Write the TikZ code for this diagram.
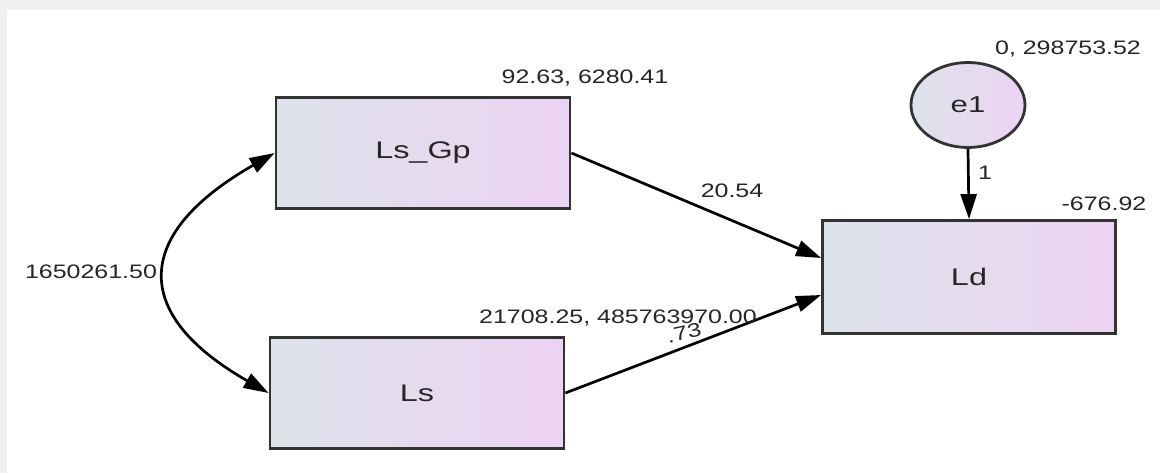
\documentclass[tikz,border=0pt]{standalone}
\usepackage{fontspec}
\setmainfont{Liberation Sans}
\usetikzlibrary{arrows.meta,shapes.geometric}
\definecolor{bgray}{HTML}{F0F0F0}
\definecolor{lblue}{HTML}{DDE3EB}
\definecolor{lpink}{HTML}{EDD3F3}
\definecolor{edgec}{HTML}{333333}
\definecolor{txtc}{HTML}{262626}
\newcommand\sxl[1]{\scalebox{1.28}[1]{#1}}
\newcommand\sxb[1]{\scalebox{1.35}[1]{#1}}
\begin{document}
\begin{tikzpicture}[x=1pt,y=-1pt,
  var/.style={rectangle, draw=edgec, line width=2.8pt, left color=lblue, right color=lpink,
    minimum width=294pt, minimum height=111pt, inner sep=0pt,
    font=\fontsize{24}{24}\selectfont, text=txtc},
  err/.style={ellipse, draw=edgec, line width=2.8pt, left color=lblue, right color=lpink,
    minimum width=114pt, minimum height=85pt, inner sep=0pt,
    font=\fontsize{23}{23}\selectfont, text=txtc},
  lbl/.style={inner sep=0pt, font=\fontsize{19.5}{20}\selectfont, text=txtc},
  arr/.style={line width=2.7pt, draw=black, -{Triangle[length=25pt,width=16pt]}},
  dbl/.style={line width=2.7pt, draw=black, {Triangle[length=25pt,width=16pt]}-{Triangle[length=25pt,width=16pt]}}
]
\useasboundingbox (0,0) rectangle (1160,473);
\fill[bgray] (0,0) rectangle (1160,473);
\fill[white] (7,10) rectangle (1160,473);

\node[var] (lsgp) at (423,153) {\sxb{Ls\_Gp}};
\node[var] (ls) at (417,393) {\sxb{Ls}};
\node[var, minimum width=293pt, minimum height=113pt] (ld) at (969,277) {\sxb{Ld}};
\node[err] (e1) at (968,105) {\sxb{e1}};

\coordinate (ldin1) at ([yshift=19pt]ld.west);
\coordinate (ldin2) at ([yshift=-18pt]ld.west);

\draw[arr] (lsgp.east) -- (ldin1);
\draw[arr] (ls.east) -- (ldin2);
\draw[arr] (e1.south) -- (ld.north);
\draw[dbl] (lsgp.west) .. controls +(-140,80) and +(-140,-80) .. (ls.west);

\node[lbl] (l1) at (585,78) {\sxl{92.63, 6280.41}};
\node[lbl] (l2) at (1068,49) {\sxl{0, 298753.52}};
\node[lbl] (l3) at (1104,204) {\sxl{-676.92}};
\node[lbl] (l4) at (985,173) {\sxl{1}};
\node[lbl] (l5) at (732,191) {\sxl{20.54}};
\node[lbl] (l6) at (91,272) {\sxl{1650261.50}};
\node[lbl] (l7) at (618,318) {\sxl{21708.25, 485763970.00}};
\node[lbl, rotate=12] (l8) at (684,333) {\sxl{.73}};
\end{tikzpicture}
\end{document}
